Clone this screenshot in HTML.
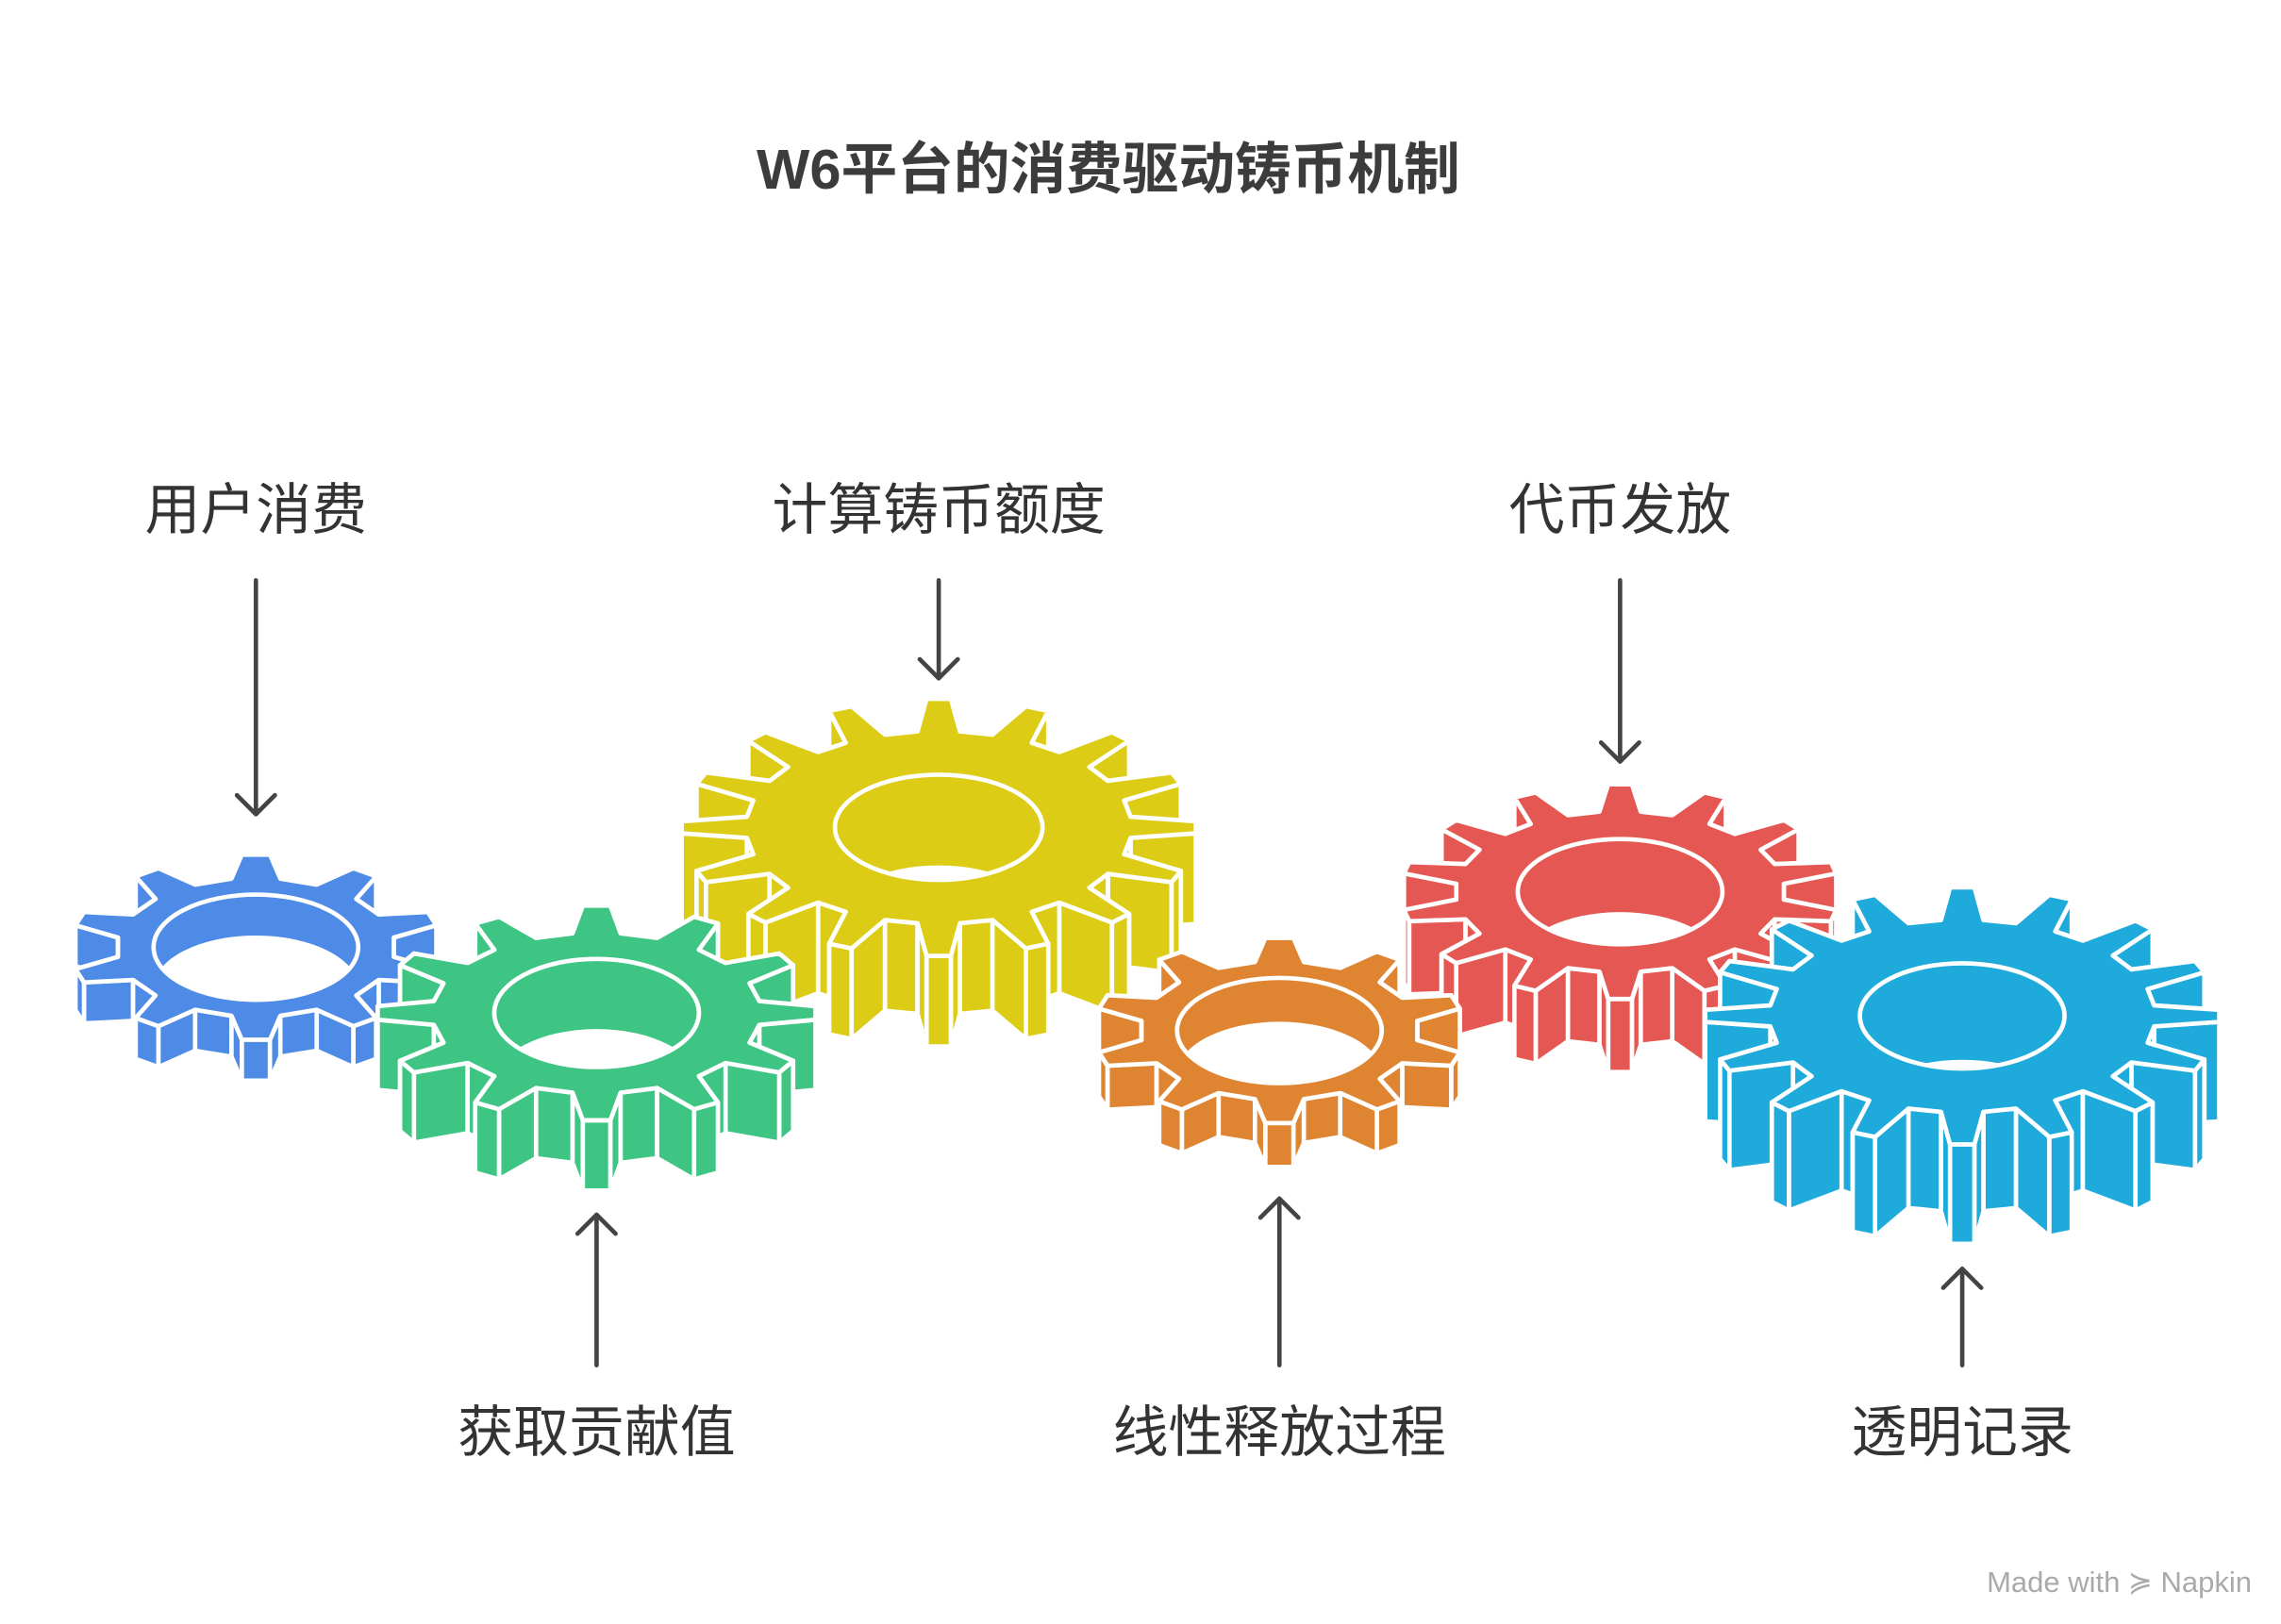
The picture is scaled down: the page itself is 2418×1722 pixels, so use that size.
<!DOCTYPE html>
<html><head><meta charset="utf-8">
<style>
html,body{margin:0;padding:0;background:#fff;}
svg{display:block;}
text{font-family:"Liberation Sans","Noto Sans CJK SC",sans-serif;}
</style></head>
<body>
<svg id="s" width="2418" height="1722" viewBox="0 0 1560 1111" xmlns="http://www.w3.org/2000/svg">
<rect width="1560" height="1111" fill="#fff"/>
<text x="758" y="129" text-anchor="middle" font-size="38.5" font-weight="bold" fill="#3c3c3c">W6平台的消费驱动铸币机制</text>
<g font-size="38" fill="#333" text-anchor="middle">
<text x="175" y="362">用户消费</text>
<text x="642" y="362">计算铸币额度</text>
<text x="1108" y="362">代币发放</text>
<text x="408" y="993">获取贡献值</text>
<text x="875" y="993">线性释放过程</text>
<text x="1342" y="993">透明记录</text>
</g>
<g id="gears"></g>
<g stroke="#444" stroke-width="3" fill="none" stroke-linecap="round" stroke-linejoin="round">
<line x1="175" y1="397" x2="175" y2="557"/><polyline points="162,544 175,557 188,544"/>
<line x1="642" y1="397" x2="642" y2="464"/><polyline points="629,451 642,464 655,451"/>
<line x1="1108" y1="397" x2="1108" y2="521"/><polyline points="1095,508 1108,521 1121,508"/>
<line x1="408" y1="934" x2="408" y2="831"/><polyline points="395,844 408,831 421,844"/>
<line x1="875" y1="934" x2="875" y2="820"/><polyline points="862,833 875,820 888,833"/>
<line x1="1342" y1="934" x2="1342" y2="868"/><polyline points="1329,881 1342,868 1355,881"/>
</g>
<text x="1540" y="1089" text-anchor="end" font-size="20" fill="#aaa">Made with ≽ Napkin</text>
</svg>
<script>
var NS="http://www.w3.org/2000/svg";
var G=document.getElementById("gears");
function el(t,a,p){var e=document.createElementNS(NS,t);for(var k in a)e.setAttribute(k,a[k]);(p||G).appendChild(e);return e;}
var id=0;
function gear(cx,cy,R,n,k,d,hrx,hry,col){
  var g=el("g",{});
  var pts=[],r=R*0.75,P=2*Math.PI/n;
  for(var i=0;i<n;i++){
    var a=-Math.PI/2+i*P;
    var bw=P*0.28,tw=P*0.12;
    [[a-bw,r],[a-tw,R],[a+tw,R],[a+bw,r]].forEach(function(q){
      pts.push([cx+Math.cos(q[0])*q[1],cy+Math.sin(q[0])*q[1]*k]);});
  }
  function s(p){return p.map(function(q){return q[0].toFixed(1)+","+q[1].toFixed(1)}).join(" ");}
  var at={fill:col,stroke:"#fff","stroke-width":3,"stroke-linejoin":"round"};
  var bot=pts.map(function(q){return[q[0],q[1]+d]});
  el("polygon",Object.assign({points:s(bot)},at),g);
  var walls=[];
  for(var i=0;i<pts.length;i++){var p=pts[i],q=pts[(i+1)%pts.length];
    walls.push({y:(p[1]+q[1])/2,pts:[p,q,[q[0],q[1]+d],[p[0],p[1]+d]]});}
  walls.sort(function(a,b){return a.y-b.y});
  walls.forEach(function(w){el("polygon",Object.assign({points:s(w.pts)},at),g);});
  el("polygon",Object.assign({points:s(pts)},at),g);
  id++;
  var cp=el("clipPath",{id:"c"+id},g);
  el("ellipse",{cx:cx,cy:cy,rx:hrx,ry:hry},cp);
  el("ellipse",{cx:cx,cy:cy,rx:hrx,ry:hry,fill:col},g);
  el("ellipse",{cx:cx,cy:cy+Math.min(d,2*hry-6),rx:hrx,ry:hry,fill:"#fff","clip-path":"url(#c"+id+")"},g);
  el("ellipse",{cx:cx,cy:cy,rx:hrx,ry:hry,fill:"none",stroke:"#fff","stroke-width":3},g);
}
gear(175,648,127,10,0.5,28,70,36,"#4E8BE6");
gear(642,566,176,16,0.5,62,71,36,"#DDCC16");
gear(1108,610,150,14,0.49,50,70,36,"#E55753");
gear(408,693,150,12,0.49,48,70,37,"#3EC584");
gear(875,705,127,10,0.5,30,70,36,"#DF8431");
gear(1342,695,176,16,0.5,68,70,36,"#1EAADB");
</script>
</body></html>
